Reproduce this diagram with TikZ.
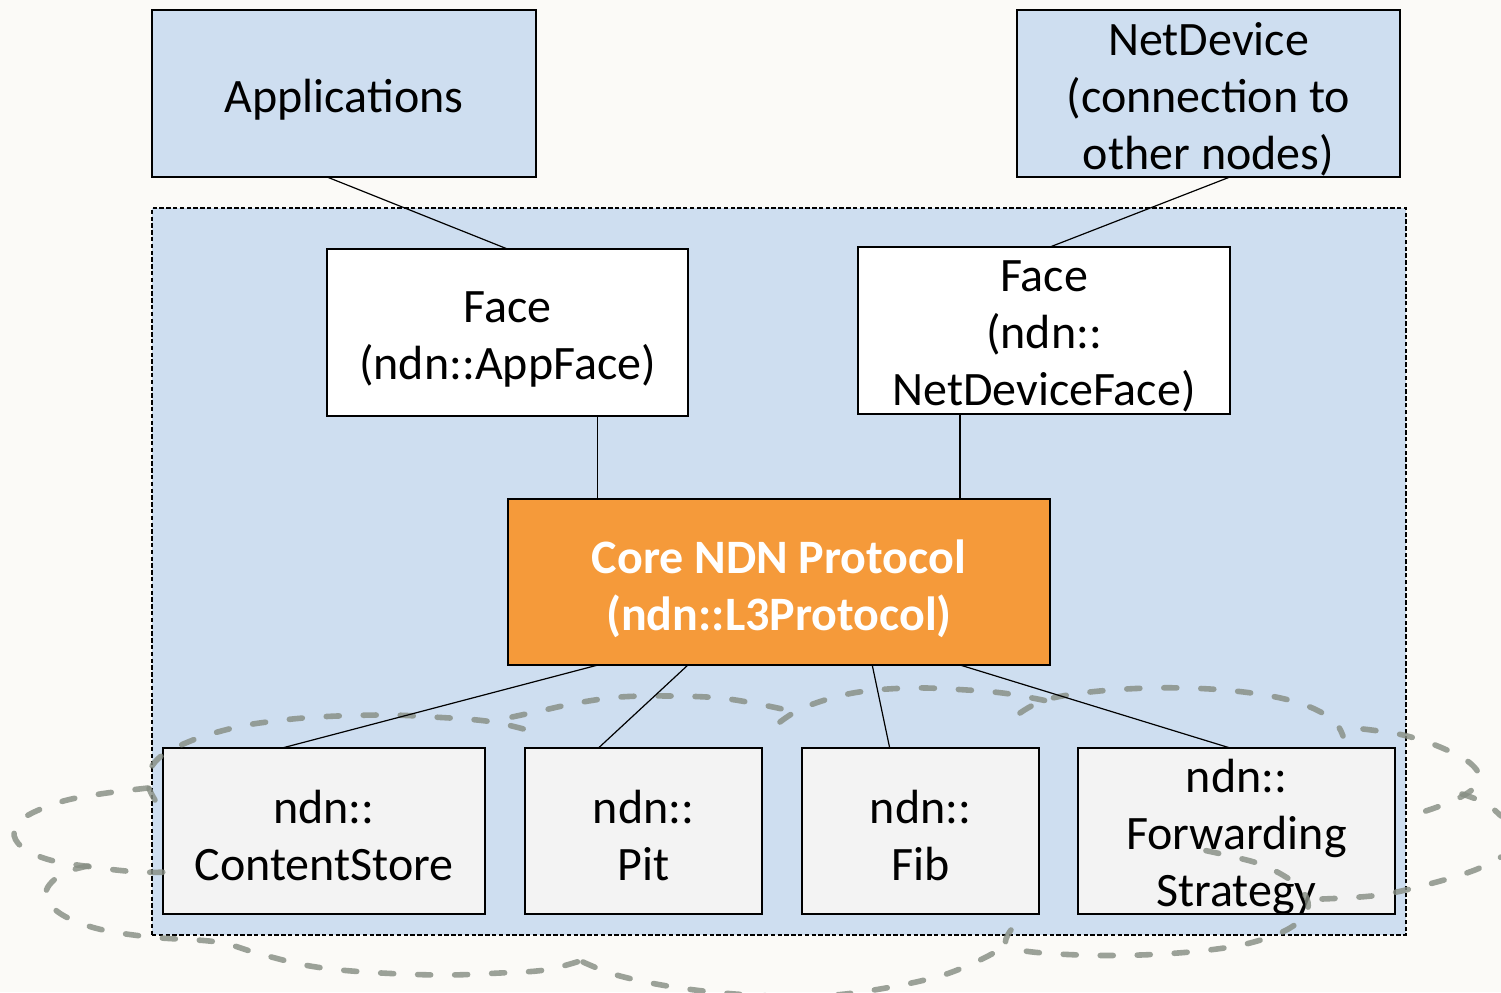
\documentclass[tikz,border=0pt]{standalone}
\usepackage{fontspec}
\setmainfont{Carlito}
\usetikzlibrary{calc}

\definecolor{pagebg}{RGB}{251,250,247}
\definecolor{layerblue}{RGB}{206,222,240}
\definecolor{coreorange}{RGB}{245,154,58}
\definecolor{modgrey}{RGB}{243,243,243}
\definecolor{orbitgrey}{RGB}{135,142,132}

\newcommand\ndnfont{\fontsize{24}{28.5}\selectfont}

\tikzset{
  blockbox/.style={draw=black, line width=0.6pt, inner sep=0pt, outer sep=0pt, rectangle},
  outerbox/.style={blockbox, fill=layerblue},
  facebox/.style={blockbox, fill=white},
  modbox/.style={blockbox, fill=modgrey},
  corebox/.style={blockbox, fill=coreorange},
  boxtext/.style={align=center, font=\ndnfont, inner sep=0pt},
  coretext/.style={boxtext, text=white, font=\ndnfont\bfseries},
  link/.style={draw=black, line width=0.6pt},
  orbit/.style={draw=orbitgrey, opacity=0.82, line width=2.8pt, line cap=round,
                dash pattern=on 6.5pt off 12pt},
}

\begin{document}
\begin{tikzpicture}[x=0.5pt,y=-0.5pt]
  % page
  \fill[pagebg] (0,0) rectangle (1501,992);
  \useasboundingbox (0,0) rectangle (1501,992);

  % the node: dashed enclosure of the NDN stack
  \node[draw=black, fill=layerblue, line width=0.7pt, dash pattern=on 2.2pt off 1.2pt,
        minimum width=627pt, minimum height=363.5pt, inner sep=0pt, outer sep=0pt]
        (stack) at (779,571.5) {};

  % outside the node
  \node[outerbox, minimum width=192pt, minimum height=83.5pt] (apps) at (344,93.5) {};
  \node[outerbox, minimum width=191.5pt, minimum height=83.5pt] (netdev) at (1208.5,93.5) {};

  % faces
  \node[facebox, minimum width=180.5pt, minimum height=83.5pt] (appface) at (507.5,332.5) {};
  \node[facebox, minimum width=186pt, minimum height=83.5pt] (ndface) at (1044,330.5) {};

  % core protocol
  \node[corebox, minimum width=271pt, minimum height=83pt] (core) at (779,582) {};

  % modules
  \node[modbox, minimum width=161pt, minimum height=83pt] (cs) at (324,831) {};
  \node[modbox, minimum width=118.5pt, minimum height=83pt] (pit) at (643.5,831) {};
  \node[modbox, minimum width=118.5pt, minimum height=83pt] (fib) at (920.5,831) {};
  \node[modbox, minimum width=158.5pt, minimum height=83pt] (fwd) at (1236.5,831) {};

  % box labels
  \node[boxtext] (appsT)    at ([yshift=-3pt]apps.center)    {Applications};
  \node[boxtext] (netdevT)  at ([yshift=-3pt]netdev.center)  {NetDevice\\(connection to\\other nodes)};
  \node[boxtext] (appfaceT) at ([yshift=-3.5pt]appface.center) {Face\\(ndn::AppFace)};
  \node[boxtext] (ndfaceT)  at ([yshift=-3pt]ndface.center)  {Face\\(ndn::\\NetDeviceFace)};
  \node[coretext] (coreT)   at ([yshift=-3.2pt]core.center)  {Core NDN Protocol\\(ndn::L3Protocol)};
  \node[boxtext] (csT)      at ([yshift=-2pt]cs.center)      {ndn::\\ContentStore};
  \node[boxtext] (pitT)     at ([yshift=-2pt]pit.center)     {ndn::\\Pit};
  \node[boxtext] (fibT)     at ([yshift=-2pt]fib.center)     {ndn::\\Fib};
  \node[boxtext] (fwdT)     at ([yshift=-3pt]fwd.center)     {ndn::\\Forwarding\\Strategy};

  % dashed orbits
  \draw[orbit] plot[smooth, tension=0.6] coordinates
    {(155,800) (147,779) (160,757) (193,740) (233,728) (267,722) (317,717) (383,715)
     (433,717) (493,722) (545,735)};
  \draw[orbit] plot[smooth, tension=0.6] coordinates
    {(148,788) (100,794) (60,802) (25,817) (14,832) (22,847) (50,860) (100,868)
     (140,872) (177,872)};
  \draw[orbit] plot[smooth, tension=0.6] coordinates
    {(88,866) (62,874) (46,892) (58,912) (95,928) (150,937) (217,942) (260,954)
     (310,966) (365,972) (440,975) (500,973) (545,970) (580,961)};
  \draw[orbit] plot[smooth, tension=0.6] coordinates
    {(583,962) (620,976) (680,988) (750,995) (820,996) (880,989) (940,976)
     (980,960) (1002,948)};
  \draw[orbit] plot[smooth, tension=0.6] coordinates
    {(1011,930) (1006,943) (1025,951) (1080,955) (1140,955) (1200,951) (1250,943)
     (1290,928) (1308,908) (1298,886) (1265,866) (1230,856) (1193,848)};
  \draw[orbit] plot[smooth, tension=0.6] coordinates
    {(1322,899) (1380,895) (1433,883) (1475,870) (1501,857)};
  \draw[orbit] plot[smooth, tension=0.6] coordinates
    {(512,717) (540,711) (577,703) (620,697) (670,696) (720,698) (763,705) (800,713)};
  \draw[orbit] plot[smooth, tension=0.6] coordinates
    {(780,722) (805,707) (853,693) (910,688) (967,690) (1010,694) (1057,703)};
  \draw[orbit] plot[smooth, tension=0.6] coordinates
    {(1020,713) (1045,700) (1090,692) (1150,688) (1210,689) (1265,695) (1305,705)
     (1333,720) (1343,736)};
  \draw[orbit] plot[smooth, tension=0.6] coordinates
    {(1363,729) (1403,735) (1440,747) (1470,763) (1480,780) (1466,794) (1440,806)
     (1410,816)};
  \draw[orbit] plot[smooth, tension=0.6] coordinates
    {(1462,794) (1485,803) (1501,816)};

  % connectors into the node
  \draw[link] ($(apps.south west)!0.456!(apps.south east)$) -- (appface.north);
  \draw[link] ($(netdev.south west)!0.556!(netdev.south east)$)
              -- ($(ndface.north west)!0.516!(ndface.north east)$);

  % faces to core
  \coordinate (af) at ($(appface.south west)!0.75!(appface.south east)$);
  \coordinate (nf) at ($(ndface.south west)!0.274!(ndface.south east)$);
  \draw[link] (af) -- (af |- core.north);
  \draw[link] (nf) -- (nf |- core.north);

  % core to modules
  \draw[link] ($(core.south west)!0.166!(core.south east)$)
              -- ($(cs.north west)!0.37!(cs.north east)$);
  \draw[link] ($(core.south west)!0.332!(core.south east)$)
              -- ($(pit.north west)!0.31!(pit.north east)$);
  \draw[link] ($(core.south west)!0.672!(core.south east)$)
              -- ($(fib.north west)!0.37!(fib.north east)$);
  \draw[link] ($(core.south west)!0.834!(core.south east)$)
              -- ($(fwd.north west)!0.48!(fwd.north east)$);
\end{tikzpicture}
\end{document}
